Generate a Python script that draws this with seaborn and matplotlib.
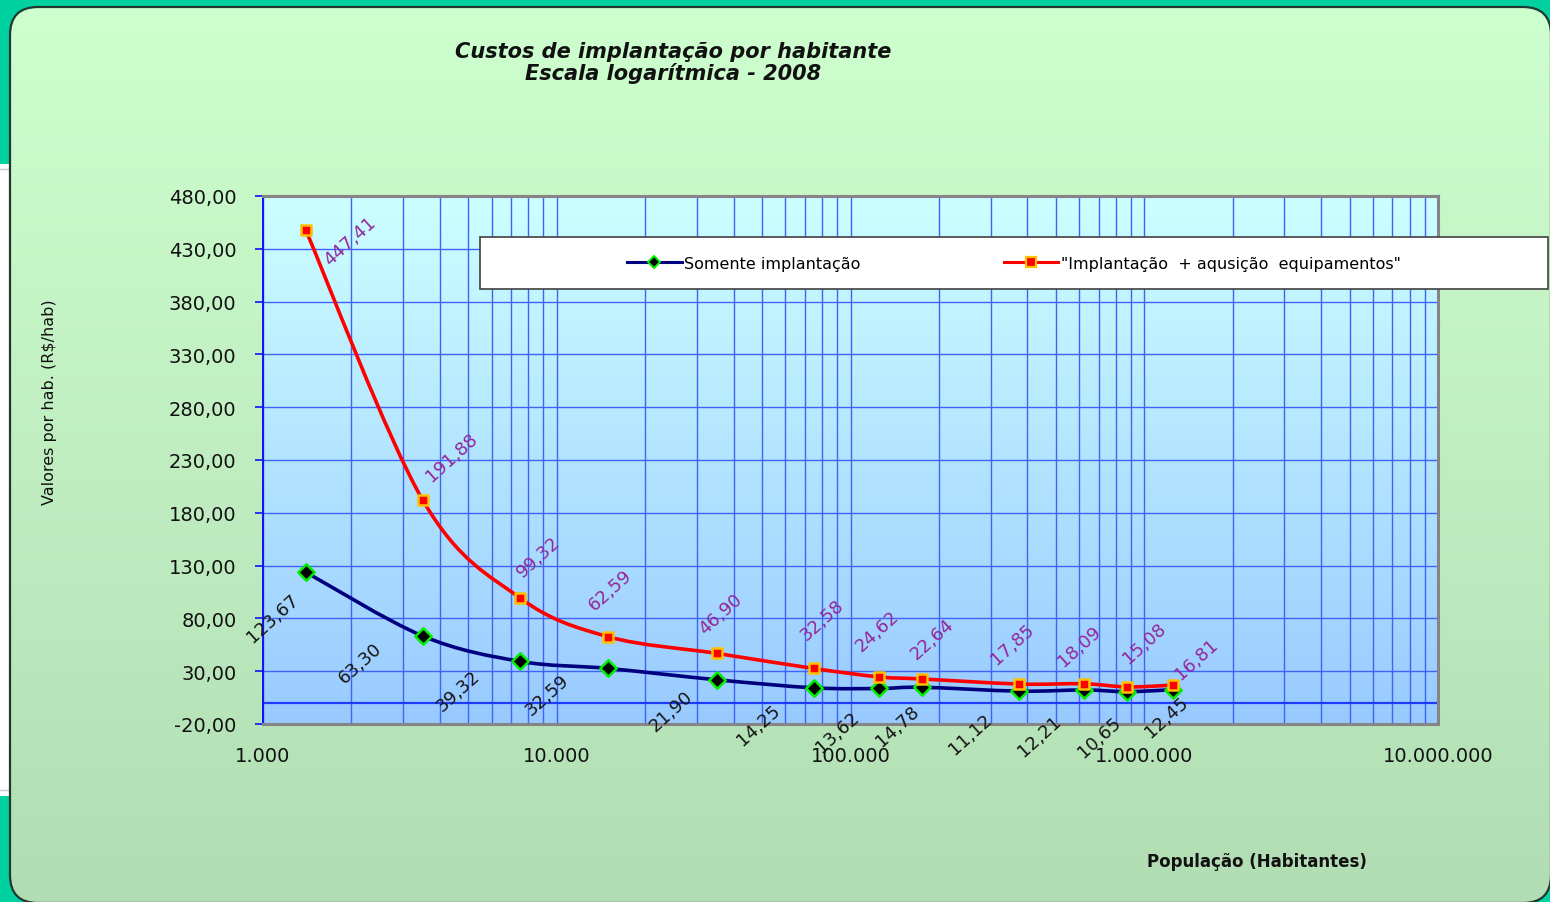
import numpy as np
import pandas as pd
import matplotlib
matplotlib.use("Agg")
import matplotlib.pyplot as plt
import seaborn as sns
from matplotlib.path import Path
from matplotlib.patches import PathPatch, FancyBboxPatch, Rectangle
from matplotlib.colors import LinearSegmentedColormap
from matplotlib.ticker import FixedLocator, FuncFormatter, NullFormatter
from matplotlib.lines import Line2D

# ---- data -------------------------------------------------------------
populacao = [1400, 3500, 7500, 15000, 35000, 75000, 125000, 175000,
             375000, 625000, 875000, 1250000]
somente_implantacao = [123.67, 63.30, 39.32, 32.59, 21.90, 14.25, 13.62,
                       14.78, 11.12, 12.21, 10.65, 12.45]
implantacao_equipamentos = [447.41, 191.88, 99.32, 62.59, 46.90, 32.58,
                            24.62, 22.64, 17.85, 18.09, 15.08, 16.81]
serie_nomes = ["Somente implantação",
               "\"Implantação  + aqusição  equipamentos\""]
y_ticks = [-20, 30, 80, 130, 180, 230, 280, 330, 380, 430, 480]
x_ticks = [1_000, 10_000, 100_000, 1_000_000, 10_000_000]

# value label offsets (pixels) relative to each marker
off_somente = [(-33, -45), (-63, -27), (-62, -29), (-61, -26), (-46, -31),
               (-55, -37), (-42, -43), (-24, -38), (-49, -42), (-45, -46),
               (-28, -45), (-6, -27)]
off_equip = [(44, -10), (29, 43), (18, 42), (2, 47), (4, 40), (8, 49),
             (-2, 46), (10, 40), (-7, 40), (-5, 38), (17, 44), (24, 26)]

df = pd.DataFrame({
    "populacao": populacao * 2,
    "valor": somente_implantacao + implantacao_equipamentos,
    "serie": [serie_nomes[0]] * len(populacao) + [serie_nomes[1]] * len(populacao),
})

plt.rcParams["font.family"] = ["DejaVu Sans"]

W, H = 1550, 903
fig = plt.figure(figsize=(W / 100, H / 100), dpi=100, facecolor="#00D1A0")

# ---- outer chart frame --------------------------------------------------
bg = fig.add_axes([0, 0, 1, 1], zorder=-10)
bg.set_xlim(0, W)
bg.set_ylim(H, 0)
bg.axis("off")
bg.add_patch(Rectangle((0, 165), 9, 632, facecolor="white", edgecolor="none"))
bg.plot([0, 9], [170, 170], color="#C8C8C8", lw=1)
bg.plot([0, 9], [791, 791], color="#C8C8C8", lw=1)
frame = FancyBboxPatch((10, 8), W - 9, H - 7,
                       boxstyle="round,pad=0,rounding_size=28",
                       facecolor="none", edgecolor="#203830", lw=1.6, zorder=3)
bg.add_patch(frame)
green_cmap = LinearSegmentedColormap.from_list("g", ["#CEFFCE", "#B2DDB4"])
grad = np.linspace(0, 1, 256).reshape(-1, 1)
im = bg.imshow(grad, cmap=green_cmap, extent=(10, W + 1, H + 1, 8),
               aspect="auto", zorder=1)
im.set_clip_path(frame)

# ---- plot area ------------------------------------------------------------
L, R, T, B = 263, 1438, 197, 725
ax = fig.add_axes([L / W, 1 - B / H, (R - L) / W, (B - T) / H])
ax.set_xscale("log")
ax.set_xlim(1_000, 10_000_000)
ax.set_ylim(-20, 480)
ax.patch.set_alpha(0)

blue_cmap = LinearSegmentedColormap.from_list("b", ["#CCFFFF", "#99CAFF"])
ax.imshow(grad, cmap=blue_cmap, extent=(0, 1, 0, 1), transform=ax.transAxes,
          aspect="auto", zorder=0)

grid_c = "#3F62F7"
ax.xaxis.set_major_locator(FixedLocator(x_ticks))
ax.xaxis.set_minor_locator(FixedLocator(
    [m * d for d in x_ticks[:-1] for m in range(2, 10)]))
ax.xaxis.set_minor_formatter(NullFormatter())
ax.xaxis.set_major_formatter(FuncFormatter(
    lambda v, p: f"{int(round(v)):,}".replace(",", ".")))
ax.yaxis.set_major_locator(FixedLocator(y_ticks))
ax.yaxis.set_major_formatter(FuncFormatter(
    lambda v, p: f"{v:.2f}".replace(".", ",")))
ax.grid(True, which="both", axis="x", color=grid_c, lw=1.0, zorder=1)
ax.grid(True, which="major", axis="y", color=grid_c, lw=1.0, zorder=1)
ax.set_axisbelow(True)
ax.axhline(0, color="#1C3CFF", lw=1.6, zorder=1.5)

for side in ("top", "right", "bottom"):
    ax.spines[side].set_color("#858585")
    ax.spines[side].set_linewidth(2.2)
ax.spines["left"].set_color("#1010FF")
ax.spines["left"].set_linewidth(1.4)
ax.tick_params(axis="y", which="major", direction="out", length=6,
               width=1.2, color="#1010FF", pad=13, labelsize=14,
               labelcolor="#111111")
ax.tick_params(axis="x", which="both", length=0, pad=16, labelsize=14,
               labelcolor="#111111")


def smooth_path(xs, ys):
    """Cubic Bezier path through the points (smoothed line, screen space)."""
    pts = np.column_stack([np.log10(xs), np.asarray(ys, float)])
    n = len(pts)
    verts, codes = [pts[0]], [Path.MOVETO]
    for i in range(n - 1):
        p0 = pts[i - 1] if i > 0 else pts[i]
        p1, p2 = pts[i], pts[i + 1]
        p3 = pts[i + 2] if i + 2 < n else pts[i + 1]
        verts += [p1 + (p2 - p0) / 6, p2 - (p3 - p1) / 6, p2]
        codes += [Path.CURVE4] * 3
    v = np.array(verts)
    v[:, 0] = 10 ** v[:, 0]
    return Path(v, codes)


line_colors = ["#00007E", "#FF0000"]
for vals, col in zip([somente_implantacao, implantacao_equipamentos], line_colors):
    ax.add_patch(PathPatch(smooth_path(populacao, vals), facecolor="none",
                           edgecolor=col, lw=2.6, zorder=3, capstyle="round"))

sns.scatterplot(data=df[df.serie == serie_nomes[0]], x="populacao", y="valor",
                marker="D", s=70, color="black", edgecolor="#00EE00",
                linewidth=1.8, zorder=4, ax=ax, legend=False)
sns.scatterplot(data=df[df.serie == serie_nomes[1]], x="populacao", y="valor",
                marker="s", s=55, color="#FF0000", edgecolor="#FFC000",
                linewidth=1.8, zorder=5, ax=ax, legend=False)

fmt = lambda v: f"{v:.2f}".replace(".", ",")
for x, v, (dx, dy) in zip(populacao, somente_implantacao, off_somente):
    ax.annotate(fmt(v), (x, v), xytext=(dx, dy), textcoords="offset pixels",
                ha="center", va="center", rotation=42, fontsize=13,
                color="#151515", zorder=6, annotation_clip=False)
for x, v, (dx, dy) in zip(populacao, implantacao_equipamentos, off_equip):
    ax.annotate(fmt(v), (x, v), xytext=(dx, dy), textcoords="offset pixels",
                ha="center", va="center", rotation=42, fontsize=13,
                color="#93279A", zorder=6, annotation_clip=False)

ax.set_xlabel("")
ax.set_ylabel("")

# ---- legend ---------------------------------------------------------------
lx0, ly0, lx1, ly1 = 480, 238, 1548, 290
ax.add_patch(Rectangle((lx0 / W, 1 - ly1 / H), (lx1 - lx0) / W, (ly1 - ly0) / H,
                       transform=fig.transFigure, facecolor="white",
                       edgecolor="#404040", lw=1.2, clip_on=False, zorder=7))
handles = [
    Line2D([], [], color=line_colors[0], lw=2.2, marker="D", markersize=6,
           markerfacecolor="black", markeredgecolor="#00EE00", markeredgewidth=1.4),
    Line2D([], [], color=line_colors[1], lw=2.2, marker="s", markersize=7,
           markerfacecolor="#FF0000", markeredgecolor="#FFC000", markeredgewidth=1.6),
]
leg = ax.legend(handles, serie_nomes, loc="center", ncol=2, frameon=False,
                bbox_to_anchor=((lx0 + lx1) / 2 / W, 1 - (ly0 + ly1) / 2 / H),
                bbox_transform=fig.transFigure, fontsize=11.5, handlelength=3.4,
                handletextpad=0.15, columnspacing=9.0, borderaxespad=0)
leg.set_zorder(8)

# ---- titles -----------------------------------------------------------------
fig.text(673 / W, 1 - 52 / H, "Custos de implantação por habitante",
         ha="center", va="center", fontsize=15, fontweight="bold",
         fontstyle="italic", color="#111111")
fig.text(673 / W, 1 - 74 / H, "Escala logarítmica - 2008",
         ha="center", va="center", fontsize=15, fontweight="bold",
         fontstyle="italic", color="#111111")
fig.text(50 / W, 1 - 402 / H, "Valores por hab. (R\\$/hab)", rotation=90,
         ha="center", va="center", fontsize=11.5, color="#111111")
fig.text(1257 / W, 1 - 862 / H, "População (Habitantes)", ha="center",
         va="center", fontsize=12, fontweight="bold", color="#111111")

fig.savefig("out.png", dpi=100, facecolor=fig.get_facecolor())
